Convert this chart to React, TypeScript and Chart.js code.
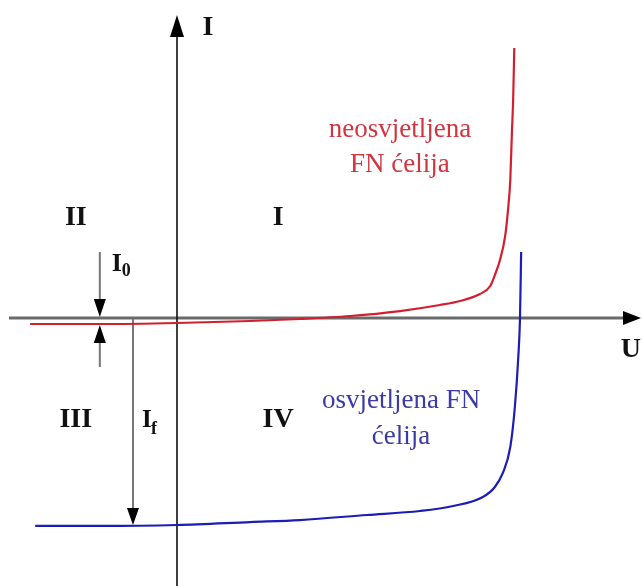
import React, { useEffect, useRef } from "react";
import { Chart, registerables } from "chart.js";

Chart.register(...registerables);

// Dark (unlit) PV cell: voltage U [V] and current I [A]
const darkU = [-0.257, -0.135, 0, 0.128, 0.215, 0.303, 0.39, 0.46, 0.495, 0.53, 0.548, 0.556, 0.565, 0.574, 0.579, 0.583, 0.586, 0.588, 0.59];
const darkI = [-0.087, -0.087, -0.072, -0.043, -0.014, 0.029, 0.101, 0.188, 0.246, 0.348, 0.464, 0.623, 0.841, 1.188, 1.565, 2.0, 2.725, 3.159, 3.913];

// Illuminated PV cell
const litU = [-0.248, -0.135, 0, 0.128, 0.215, 0.332, 0.425, 0.483, 0.535, 0.556, 0.57, 0.583, 0.591, 0.597, 0.6, 0.602];
const litI = [-3.014, -3.014, -3.0, -2.957, -2.928, -2.855, -2.797, -2.725, -2.594, -2.449, -2.246, -1.87, -1.29, -0.565, 0, 0.957];

// Axis ranges
const uRange = [-0.3096, 0.8134];
const iRange = [-3.884, 4.609];

// Marker quantities
const I0 = -0.087; // dark saturation current level
const If = -3.0; // photo current level

const darkLabel = ["neosvjetljena", "FN ćelija"];
const litLabel = ["osvjetljena FN", "ćelija"];
const quadrantLabels = ["I", "II", "III", "IV"];

const SERIF = "'Liberation Serif', 'Times New Roman', serif";

function head(ctx: CanvasRenderingContext2D, x: number, y: number, dx: number, dy: number, len: number, hw: number) {
  // tip at (x,y), pointing in direction (dx,dy)
  const bx = x - dx * len;
  const by = y - dy * len;
  const px = -dy;
  const py = dx;
  ctx.beginPath();
  ctx.moveTo(x, y);
  ctx.lineTo(bx + px * hw, by + py * hw);
  ctx.lineTo(bx - px * hw, by - py * hw);
  ctx.closePath();
  ctx.fillStyle = "#000";
  ctx.fill();
}

const decorPlugin = {
  id: "decor",
  beforeDatasetsDraw(chart: any) {
    const ctx: CanvasRenderingContext2D = chart.ctx;
    const xs = chart.scales.x;
    const ys = chart.scales.y;
    const X = (v: number) => xs.getPixelForValue(v);
    const Y = (v: number) => ys.getPixelForValue(v);
    const ca = chart.chartArea;
    ctx.save();
    // horizontal axis (U)
    ctx.strokeStyle = "#6a6a6a";
    ctx.lineWidth = 3;
    ctx.beginPath();
    ctx.moveTo(ca.left + 9, Y(0));
    ctx.lineTo(ca.right - 14, Y(0));
    ctx.stroke();
    head(ctx, ca.right - 1, Y(0), 1, 0, 18, 7);
    // vertical axis (I)
    ctx.strokeStyle = "#111";
    ctx.lineWidth = 1.6;
    ctx.beginPath();
    ctx.moveTo(X(0), ca.bottom);
    ctx.lineTo(X(0), Y(4.2));
    ctx.stroke();
    head(ctx, X(0), Y(4.391), 0, -1, 22, 7);

    // I0 arrows
    const ux0 = X(-0.135);
    ctx.strokeStyle = "#777";
    ctx.lineWidth = 2;
    ctx.beginPath();
    ctx.moveTo(ux0, Y(0.957));
    ctx.lineTo(ux0, Y(0) - 10);
    ctx.moveTo(ux0, Y(-0.71));
    ctx.lineTo(ux0, Y(I0) + 10);
    ctx.stroke();
    head(ctx, ux0, Y(0) - 1, 0, 1, 18, 6);
    head(ctx, ux0, Y(I0) + 1, 0, -1, 18, 6);

    // If arrow
    const uxf = X(-0.077);
    ctx.beginPath();
    ctx.moveTo(uxf, Y(0) + 1);
    ctx.lineTo(uxf, Y(If) - 10);
    ctx.stroke();
    head(ctx, uxf, Y(If), 0, 1, 17, 6);
    ctx.restore();
  },
  afterDraw(chart: any) {
    const ctx: CanvasRenderingContext2D = chart.ctx;
    const xs = chart.scales.x;
    const ys = chart.scales.y;
    const X = (v: number) => xs.getPixelForValue(v);
    const Y = (v: number) => ys.getPixelForValue(v);
    ctx.save();
    ctx.textBaseline = "middle";
    ctx.textAlign = "center";
    ctx.fillStyle = "#111";
    ctx.font = `bold 28px ${SERIF}`;
    // axis labels
    ctx.fillText("I", X(0.054), Y(4.203));
    ctx.fillText("U", X(0.794), Y(-0.464));
    // quadrant labels
    ctx.fillText(quadrantLabels[0], X(0.177), Y(1.449));
    ctx.fillText(quadrantLabels[1], X(-0.177), Y(1.449));
    ctx.fillText(quadrantLabels[2], X(-0.177), Y(-1.478));
    ctx.fillText(quadrantLabels[3], X(0.177), Y(-1.478));

    // I0 and If labels
    ctx.textAlign = "left";
    ctx.font = `bold 26px ${SERIF}`;
    ctx.fillText("I", X(-0.114), Y(0.783));
    ctx.font = `bold 18px ${SERIF}`;
    ctx.fillText("0", X(-0.114) + 10, Y(0.783) + 7);
    ctx.font = `bold 25px ${SERIF}`;
    ctx.fillText("I", X(-0.061), Y(-1.493));
    ctx.font = `bold 18px ${SERIF}`;
    ctx.fillText("f", X(-0.061) + 9, Y(-1.493) + 8);

    // curve labels
    ctx.textAlign = "center";
    ctx.textBaseline = "alphabetic";
    ctx.font = `27px ${SERIF}`;
    ctx.fillStyle = "#d3343f";
    ctx.fillText(darkLabel[0], X(0.39), Y(2.623));
    ctx.fillText(darkLabel[1], X(0.39), Y(2.116));
    ctx.fillStyle = "#3b3aa6";
    ctx.fillText(litLabel[0], X(0.392), Y(-1.304));
    ctx.fillText(litLabel[1], X(0.392), Y(-1.826));
    ctx.restore();
  },
};

export default function App() {
  const ref = useRef<HTMLCanvasElement>(null);
  useEffect(() => {
    document.body.style.margin = "0";
    const canvas = ref.current!;
    const chart = new Chart(canvas, {
      type: "scatter",
      data: {
        datasets: [
          {
            label: "neosvjetljena FN ćelija",
            data: darkU.map((u, i) => ({ x: u, y: darkI[i] })),
            showLine: true,
            borderColor: "#d21f30",
            borderWidth: 2.2,
            pointRadius: 0,
            cubicInterpolationMode: "monotone",
          },
          {
            label: "osvjetljena FN ćelija",
            data: litU.map((u, i) => ({ x: u, y: litI[i] })),
            showLine: true,
            borderColor: "#1c1cb6",
            borderWidth: 2.2,
            pointRadius: 0,
            cubicInterpolationMode: "monotone",
          },
        ],
      },
      options: {
        animation: false,
        responsive: false,
        layout: { padding: 0 },
        plugins: { legend: { display: false }, tooltip: { enabled: false } },
        scales: {
          x: { type: "linear", min: uRange[0], max: uRange[1], display: false },
          y: { type: "linear", min: iRange[0], max: iRange[1], display: false },
        },
      },
      plugins: [decorPlugin],
    });
    return () => chart.destroy();
  }, []);
  return (
    <div style={{ width: 642, height: 586, background: "#fff" }}>
      <canvas ref={ref} width={642} height={586} style={{ display: "block" }} />
    </div>
  );
}
